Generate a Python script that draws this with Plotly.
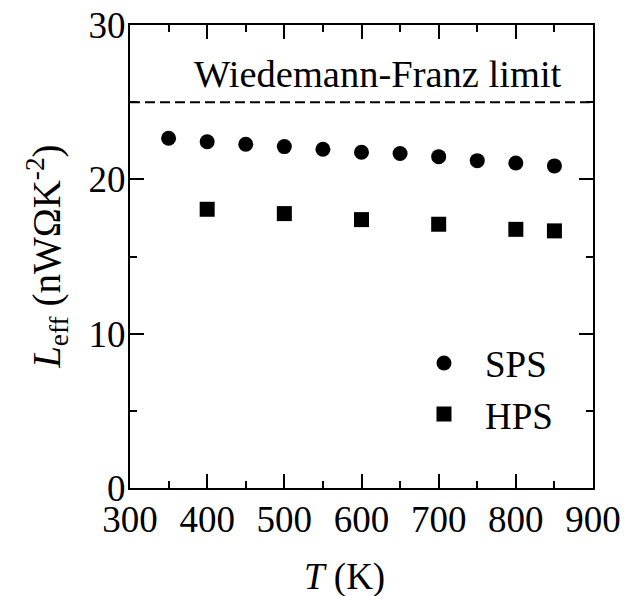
import plotly.graph_objects as go

# Data
T_SPS = [350, 400, 450, 500, 550, 600, 650, 700, 750, 800, 850]
L_SPS = [22.66, 22.44, 22.27, 22.12, 21.95, 21.75, 21.67, 21.47, 21.21, 21.06, 20.87]
T_HPS = [400, 500, 600, 700, 800, 850]
L_HPS = [18.06, 17.78, 17.39, 17.09, 16.76, 16.66]
WF_LIMIT = 25.0
X_TICKS = [300, 400, 500, 600, 700, 800, 900]
Y_TICKS = [0, 10, 20, 30]

FONT = "Liberation Serif"
FS = 37

fig = go.Figure()
fig.add_trace(go.Scatter(x=T_SPS, y=L_SPS, mode="markers", name="SPS",
                         marker=dict(symbol="circle", size=15, color="black")))
fig.add_trace(go.Scatter(x=T_HPS, y=L_HPS, mode="markers", name="HPS",
                         marker=dict(symbol="square", size=15, color="black")))

fig.add_hline(y=WF_LIMIT, line=dict(color="black", width=2, dash="10px,5px"))

fig.add_annotation(x=621, y=26.8, xref="x", yref="y", text="Wiedemann-Franz limit",
                   showarrow=False, font=dict(family=FONT, size=38.5, color="black"),
                   xanchor="center", yanchor="middle")

# axis titles
fig.add_annotation(x=-0.1785, y=0.5, xref="paper", yref="paper",
                   text="<i>L</i><sub>eff</sub> (nWΩK<sup>-2</sup>)", textangle=-90,
                   showarrow=False, font=dict(family=FONT, size=39, color="black"),
                   xanchor="center", yanchor="middle")
fig.add_annotation(x=0.464, y=-0.192, xref="paper", yref="paper",
                   text="<i>T</i> (K)", showarrow=False,
                   font=dict(family=FONT, size=FS, color="black"),
                   xanchor="center", yanchor="middle")

axis_common = dict(showgrid=False, zeroline=False, showline=True, linecolor="black",
                   linewidth=2, mirror="allticks", ticks="inside", tickwidth=2,
                   ticklen=14, tickcolor="black", automargin=False,
                   tickfont=dict(family=FONT, size=FS, color="black"))

fig.update_xaxes(range=[300, 900], tickvals=X_TICKS, ticklabelstandoff=-2,
                 minor=dict(ticks="inside", dtick=50, ticklen=7, tickwidth=2, tickcolor="black"),
                 **axis_common)
fig.update_yaxes(range=[0, 30], tickvals=Y_TICKS, ticklabelstandoff=-5,
                 minor=dict(ticks="inside", dtick=5, ticklen=7, tickwidth=2, tickcolor="black"),
                 **axis_common)

fig.update_layout(
    width=627, height=596,
    margin=dict(l=130, r=34, t=25, b=108, pad=0, autoexpand=False),
    paper_bgcolor="white", plot_bgcolor="white",
    font=dict(family=FONT, size=FS, color="black"),
    showlegend=True,
    legend=dict(x=0.5896, y=0.336, xanchor="left", yanchor="top",
                bgcolor="rgba(0,0,0,0)", itemwidth=72,
                font=dict(family=FONT, size=FS, color="black")),
)

fig.write_html("out.html", config={"displayModeBar": False},
               post_script="document.body.style.margin='0';document.body.style.overflow='hidden';")
